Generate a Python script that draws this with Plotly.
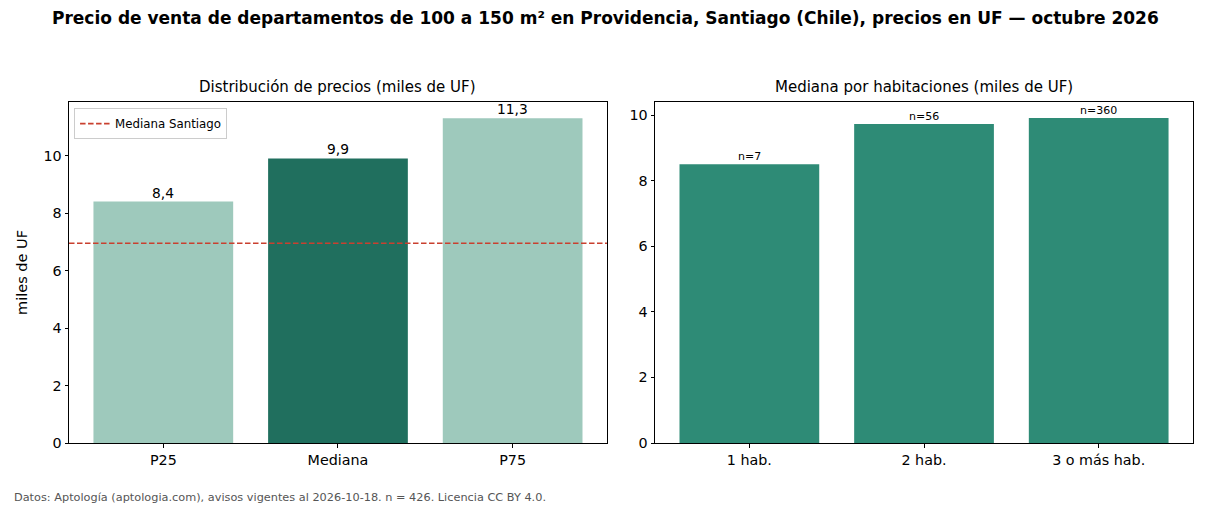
import plotly.graph_objects as go

# Data
dist_labels = ["P25", "Mediana", "P75"]
dist_values = [8.4, 9.9, 11.3]
dist_colors = ["#9ec9bc", "#206f5e", "#9ec9bc"]
santiago_median = 6.95

hab_labels = ["1 hab.", "2 hab.", "3 o más hab."]
hab_values = [8.5, 9.73, 9.91]
hab_counts = [7, 56, 360]

title = "Precio de venta de departamentos de 100 a 150 m² en Providencia, Santiago (Chile), precios en UF — octubre 2026"
sub1 = "Distribución de precios (miles de UF)"
sub2 = "Mediana por habitaciones (miles de UF)"
footer = "Datos: Aptología (aptologia.com), avisos vigentes al 2026-10-18. n = 426. Licencia CC BY 4.0."

FONT = "DejaVu Sans"
RED = "#c9402f"
fig = go.Figure()

fig.add_trace(go.Bar(x=list(range(3)), y=dist_values, marker=dict(color=dist_colors, line=dict(width=0)),
                     width=0.8, xaxis="x", yaxis="y", showlegend=False, hoverinfo="skip"))
fig.add_trace(go.Bar(x=list(range(3)), y=hab_values, marker=dict(color="#2e8b76", line=dict(width=0)),
                     width=0.8, xaxis="x2", yaxis="y2", showlegend=False, hoverinfo="skip"))
# legend entry for the Santiago median
fig.add_trace(go.Scatter(x=[None], y=[None], mode="lines", name="Mediana Santiago",
                         line=dict(color=RED, width=1.6, dash="5.5px,2.5px"),
                         xaxis="x", yaxis="y", showlegend=True))

fig.add_shape(type="line", xref="x domain", x0=0, x1=1, yref="y", y0=santiago_median, y1=santiago_median,
              line=dict(color=RED, width=1.6, dash="5.5px,2.5px"), layer="above")

def fmt(v):
    return f"{v:.1f}".replace(".", ",")

anns = []
for i, v in enumerate(dist_values):
    anns.append(dict(x=i, y=v, xref="x", yref="y", text=fmt(v), showarrow=False, yanchor="bottom",
                     yshift=-1, font=dict(family=FONT, size=13.8, color="black")))
for i, (v, n) in enumerate(zip(hab_values, hab_counts)):
    anns.append(dict(x=i, y=v, xref="x2", yref="y2", text=f"n={n}", showarrow=False, yanchor="bottom",
                     yshift=-1, font=dict(family=FONT, size=11, color="black")))

axis_common = dict(showline=True, linecolor="black", linewidth=1, mirror=True, ticks="outside",
                   ticklen=3.5, tickcolor="black", showgrid=False, zeroline=False,
                   tickfont=dict(family=FONT, size=14.3, color="black"))

plot_w = 1210 - 69 - 17
plot_h = 506 - 102 - 63

anns += [
    dict(x=(605 - 69) / plot_w, y=1, xref="paper", yref="paper", yshift=84, xanchor="center", yanchor="middle",
         text=f"<b>{title}</b>", showarrow=False, font=dict(family=FONT, size=17, color="black")),
    dict(x=0.2393, y=1, xref="paper", yref="paper", yshift=15, xanchor="center", yanchor="middle", text=sub1,
         showarrow=False, font=dict(family=FONT, size=15, color="black")),
    dict(x=0.7607, y=1, xref="paper", yref="paper", yshift=15, xanchor="center", yanchor="middle", text=sub2,
         showarrow=False, font=dict(family=FONT, size=15, color="black")),
    dict(x=(12 - 69) / plot_w, y=(443 - 497) / plot_h, xref="paper", yref="paper", xanchor="left",
         yanchor="middle", text=footer, showarrow=False, font=dict(family=FONT, size=11.3, color="#555555")),
]

fig.update_layout(
    width=1210, height=506,
    margin=dict(l=69, r=17, t=102, b=63),
    plot_bgcolor="white", paper_bgcolor="white",
    font=dict(family=FONT, color="black"),
    xaxis=dict(domain=[0, 0.4786], range=[-0.54, 2.54], tickvals=list(range(3)), ticktext=dist_labels, **axis_common),
    yaxis=dict(range=[0, 11.865], tickvals=[0, 2, 4, 6, 8, 10],
               title=dict(text="miles de UF", font=dict(family=FONT, size=14.5), standoff=12), **axis_common),
    xaxis2=dict(domain=[0.5214, 1], range=[-0.54, 2.54], tickvals=list(range(3)), ticktext=hab_labels, anchor="y2", **axis_common),
    yaxis2=dict(range=[0, 10.4], tickvals=[0, 2, 4, 6, 8, 10], anchor="x2", **axis_common),
    legend=dict(x=0.0045, y=0.982, xanchor="left", yanchor="top", xref="paper", yref="paper",
                bgcolor="rgba(255,255,255,0.8)", bordercolor="#cccccc", borderwidth=1,
                font=dict(family=FONT, size=11.8, color="black"), itemwidth=30, tracegroupgap=0),
    showlegend=True,
    annotations=anns,
)

fig.write_html("out.html")
